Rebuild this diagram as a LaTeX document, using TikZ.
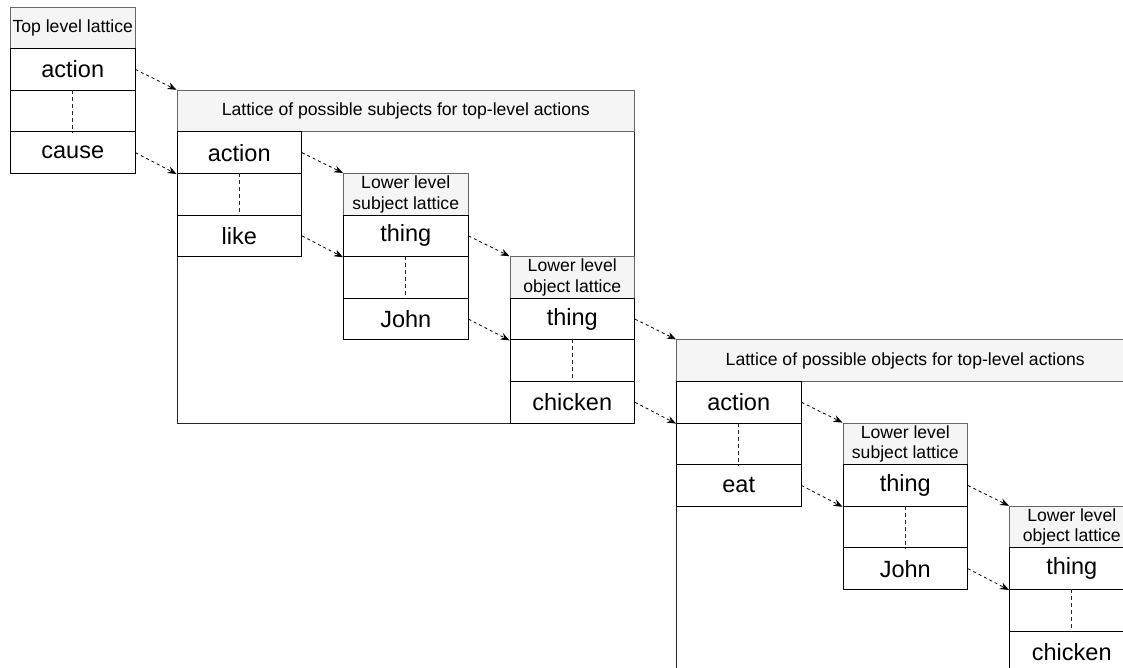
\documentclass[tikz,border=0pt]{standalone}
\usepackage{fontspec}
\setmainfont{Liberation Sans}
\usetikzlibrary{arrows.meta}
\definecolor{hdrfill}{HTML}{F5F5F5}
\definecolor{hdrline}{HTML}{666666}

% three stacked cells of one lattice column: top term, gap, bottom term
\newcommand{\latrows}[5]{%
  \node[cell] (#1t) at (#2,#3) {#4};
  \node[cell] (#1m) at (#2,#3+41.6) {};
  \node[cell] (#1b) at (#2,#3+83.2) {#5};
  \draw[rank] (#1m.north) -- (#1m.south);
}

\begin{document}
\begin{tikzpicture}[x=1pt,y=-1pt,
  cell/.style={draw=black,line width=1pt,minimum width=124.5pt,minimum height=41.6pt,
    inner sep=0pt,anchor=north west,font=\fontsize{23.5}{26}\selectfont},
  hdr/.style={draw=hdrline,fill=hdrfill,line width=1pt,minimum width=124.5pt,
    minimum height=41.6pt,inner sep=0pt,anchor=north west,align=center,
    font=\fontsize{17.6}{20.5}\selectfont},
  wide/.style={hdr,minimum width=457.5pt},
  frame/.style={draw=black!85,line width=1pt,anchor=north west,inner sep=0pt,
    minimum width=457.5pt},
  link/.style={dash pattern=on 3pt off 3pt,line width=0.8pt,
    -{Stealth[length=9pt,width=7pt]}},
  rank/.style={dash pattern=on 4pt off 3pt,line width=0.8pt,draw=black!85},
]
\useasboundingbox (0,0) rectangle (1123,668);
\clip (0,0) rectangle (1123,668);

% containers
\node[frame,minimum height=332.8pt] (subjbox) at (176.5,89.8) {};
\node[frame,minimum height=360pt] (objbox) at (676,339.4) {};

% top level lattice
\node[hdr] (h0) at (10,6.6) {Top level lattice};
\latrows{c0}{10}{48.2}{action}{cause}

% subjects
\node[wide] (h1) at (176.5,89.8) {Lattice of possible subjects for top-level actions};
\latrows{c1}{176.5}{131.4}{action}{like}
\node[hdr] (h2) at (343,173) {Lower level\\subject lattice};
\latrows{c2}{343}{214.6}{thing}{John}
\node[hdr] (h3) at (509.5,256.2) {Lower level\\object lattice};
\latrows{c3}{509.5}{297.8}{thing}{chicken}

% objects
\node[wide] (h4) at (676,339.4) {Lattice of possible objects for top-level actions};
\latrows{c4}{676}{381}{action}{eat}
\node[hdr] (h5) at (842.5,422.6) {Lower level\\subject lattice};
\latrows{c5}{842.5}{464.2}{thing}{John}
\node[hdr] (h6) at (1009,505.8) {Lower level\\object lattice};
\latrows{c6}{1009}{547.4}{thing}{chicken}

% links between levels
\draw[link] (c0t.east) -- (h1.north west);
\draw[link] (c0b.east) -- (c1t.south west);
\draw[link] (c1t.east) -- (h2.north west);
\draw[link] (c1b.east) -- (c2t.south west);
\draw[link] (c2t.east) -- (h3.north west);
\draw[link] (c2b.east) -- (c3t.south west);
\draw[link] (c3t.east) -- (h4.north west);
\draw[link] (c3b.east) -- (c4t.south west);
\draw[link] (c4t.east) -- (h5.north west);
\draw[link] (c4b.east) -- (c5t.south west);
\draw[link] (c5t.east) -- (h6.north west);
\draw[link] (c5b.east) -- (c6t.south west);
\end{tikzpicture}
\end{document}
